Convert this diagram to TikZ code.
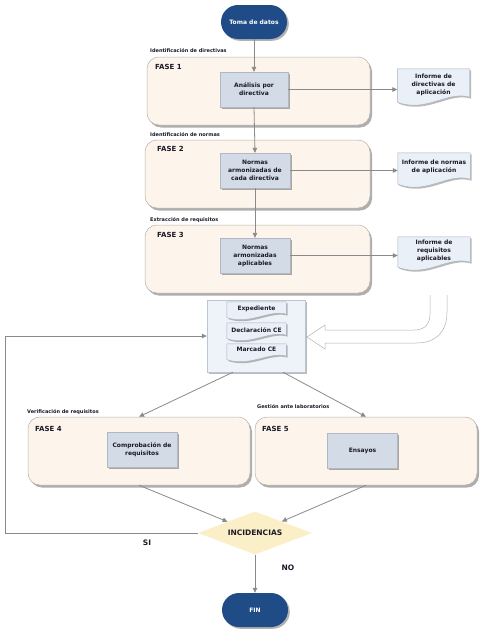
\documentclass[tikz,border=0pt]{standalone}
\usepackage{fontspec}
\setmainfont{DejaVu Sans}
\usetikzlibrary{shapes.geometric,shapes.misc,shadows,arrows.meta,calc}
\definecolor{navy}{HTML}{1F4C87}
\definecolor{peach}{HTML}{FDF4EB}
\definecolor{phaseline}{HTML}{B5B0AA}
\definecolor{procfill}{HTML}{D3DBE6}
\definecolor{procline}{HTML}{B0B8C4}
\definecolor{docfill}{HTML}{EAF0F8}
\definecolor{docline}{HTML}{A7B2C0}
\definecolor{contfill}{HTML}{EEF3F9}
\definecolor{contline}{HTML}{B9C6D3}
\definecolor{diafill}{HTML}{FBEFC7}
\definecolor{arrowgrey}{HTML}{8A8A8A}
\definecolor{txt}{HTML}{1A1A28}
\newcommand\docshape[4]{\draw[docpath] (#1.north west) -- (#1.north east) -- ($(#1.south east)+(0,-0.3*#2)$) .. controls ($(#1.south east)+(-#3,-#2)$) and ($(#1.south west)+(#4,1.3*#2)$) .. ($(#1.south west)+(0,0.2*#2)$) -- cycle;}
\begin{document}
\begin{tikzpicture}[x=1pt,y=-1pt,
  base/.style={font=\fontsize{6}{8}\selectfont\bfseries, text=txt, align=center, inner sep=0pt},
  phase/.style={rectangle, rounded corners=12pt, draw=phaseline, line width=0.5pt, fill=peach,
    drop shadow={shadow xshift=2pt, shadow yshift=-2.5pt, opacity=0.45, fill=black!70},
    minimum height=68pt, inner sep=0pt},
  proc/.style={base, rectangle, fill=procfill, draw=procline, line width=0.3pt,
    minimum width=70pt, minimum height=35pt,
    drop shadow={shadow xshift=1.8pt, shadow yshift=-1.8pt, opacity=0.55, fill=black!60}},
  term/.style={base, rounded rectangle, fill=navy, text=white, minimum width=66pt, minimum height=34pt,
    drop shadow={shadow xshift=1.8pt, shadow yshift=-1.8pt, opacity=0.5, fill=black!60}},
  docnode/.style={rectangle, inner sep=0pt, minimum width=72pt},
  docpath/.style={draw=docline, line width=0.4pt, fill=docfill,
    drop shadow={shadow xshift=1.5pt, shadow yshift=-1.5pt, opacity=0.45, fill=black!60}},
  arr/.style={draw=arrowgrey, line width=0.8pt, -{Triangle[length=5pt,width=4.5pt]}},
  lab/.style={font=\fontsize{5}{6}\selectfont\bfseries, text=txt, anchor=west, inner sep=0pt},
  fase/.style={font=\fontsize{7}{8}\selectfont\bfseries, text=txt, anchor=west, inner sep=0pt},
  yesno/.style={font=\fontsize{7.5}{9}\selectfont\bfseries, text=txt, inner sep=0pt},
  hollow/.style={draw=black!30, line width=0.5pt, fill=white}
]
\useasboundingbox[fill=white] (0,0) rectangle (490,632);

% phase boxes
\node[phase, minimum width=223pt] (f1) at (258.5,91) {};
\node[phase, minimum width=225pt] (f2) at (257.5,174) {};
\node[phase, minimum width=225pt] (f3) at (257.5,259) {};
\node[phase, minimum width=222pt] (f4) at (139,451) {};
\node[phase, minimum width=222pt] (f5) at (366,451) {};

\node[fase] (t1) at (155,67) {FASE 1};
\node[fase] (t2) at (157,149) {FASE 2};
\node[fase] (t3) at (157,235) {FASE 3};
\node[fase] (t4) at (35,429) {FASE 4};
\node[fase] (t5) at (262,429) {FASE 5};

\node[lab] (l1) at (150,51) {Identificación de directivas};
\node[lab] (l2) at (150,135) {Identificación de normas};
\node[lab] (l3) at (150,220) {Extracción de requisitos};
\node[lab] (l4) at (27,412) {Verificación de requisitos};
\node[lab] (l5) at (257,407) {Gestión ante laboratorios};

% terminators
\node[term] (toma) at (254,22) {Toma de datos};
\node[term] (fin) at (255,610) {FIN};

% process boxes
\node[proc, minimum width=68pt] (a1) at (254,89.5) {Análisis por\\directiva};
\node[proc] (a2) at (255,170.5) {Normas\\armonizadas de\\cada directiva};
\node[proc] (a3) at (255,255.5) {Normas\\armonizadas\\aplicables};
\node[proc] (c4) at (142,449.5) {Comprobación de\\requisitos};
\node[proc] (c5) at (362.5,450.5) {Ensayos};

% documents
\node[docnode, minimum height=31pt] (d1) at (433.5,84.5) {};
\docshape{d1}{10}{22}{29}
\node[base] (d1t) at (d1) {Informe de\\directivas de\\aplicación};
\node[docnode, minimum height=29pt] (d2) at (434,167.5) {};
\docshape{d2}{10}{22}{29}
\node[base] (d2t) at ($(d2)+(0,-1)$) {Informe de normas\\de aplicación};
\node[docnode, minimum height=28pt] (d3) at (434,251) {};
\docshape{d3}{10}{22}{29}
\node[base] (d3t) at (d3) {Informe de\\requisitos\\aplicables};

% container with documents
\node[rectangle, fill=contfill, draw=contline, line width=0.4pt, minimum width=98pt, minimum height=72pt,
  drop shadow={shadow xshift=1.8pt, shadow yshift=-1.8pt, opacity=0.45, fill=black!60}] (cont) at (256,336) {};
\node[docnode, minimum width=59pt, minimum height=14pt] (e1) at (256.5,309) {};
\docshape{e1}{7}{17}{23}
\node[base] (e1t) at (e1) {Expediente};
\node[docnode, minimum width=59pt, minimum height=14pt] (e2) at (256.5,330) {};
\docshape{e2}{7}{17}{23}
\node[base] (e2t) at (e2) {Declaración CE};
\node[docnode, minimum width=59pt, minimum height=14pt] (e3) at (256.5,351) {};
\docshape{e3}{7}{17}{23}
\node[base] (e3t) at ($(e3)+(0,-2)$) {Marcado CE};

% hollow arrow
\draw[hollow] (430,295) -- (430,314) .. controls (430,324) and (425,330) .. (414,330) -- (325,330)
  -- (325,325) -- (307,337) -- (325,349) -- (325,343) -- (416,343)
  .. controls (436,343) and (447,332) .. (447,312) -- (447,295);

% decision
\node[diamond, font=\fontsize{7.5}{9}\selectfont\bfseries, text=txt, inner sep=0pt, fill=diafill,
  minimum width=114pt, minimum height=43pt, shape aspect=2.6] (inc) at (255,533) {INCIDENCIAS};

\node[yesno] (si) at (147,543) {SI};
\node[yesno] (no) at (288,568) {NO};

% connectors
\draw[arr] (toma.south) -- (a1.north);
\draw[arr] (a1.south) -- (a2.north);
\draw[arr] (a2.south) -- (a3.north);
\draw[arr] (a1.east) -- (a1.east -| d1.west);
\draw[arr] (a2.east) -- (a2.east -| d2.west);
\draw[arr] (a3.east) -- (a3.east -| d3.west);
\draw[arr] ([xshift=-23pt]cont.south) -- (f4.north);
\draw[arr] ([xshift=27pt]cont.south) -- (f5.north);
\draw[arr] (f4.south) -- (inc);
\draw[arr] (f5.south) -- (inc);
\draw[arr] (inc.south) -- (fin.north);
\coordinate (fbl) at (5,533);
\coordinate (fbu) at (5,336);
\draw[arr] (inc.west) -- (fbl) -- (fbu) -- (cont.west);
\end{tikzpicture}
\end{document}
